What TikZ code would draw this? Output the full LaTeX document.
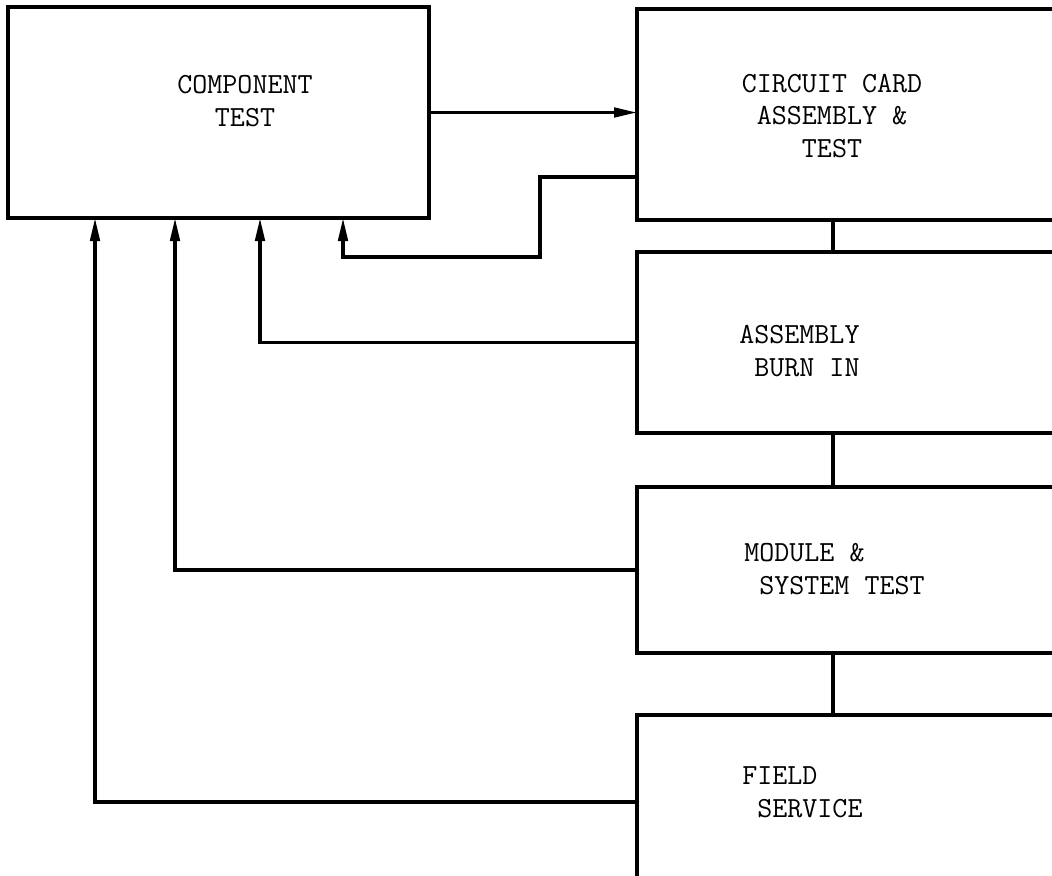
\documentclass[tikz,border=0pt]{standalone}
\usepackage{fontspec}
\usepackage{tikz}
\usetikzlibrary{arrows.meta, positioning}

\begin{document}
\begin{tikzpicture}[
    node distance=0.64cm,
    every node/.style={font=\ttfamily\fontsize{16.6}{18.6}\selectfont},
    block/.style={rectangle, draw, line width=1.9pt, outer sep=0pt, inner sep=0pt},
    stage/.style={block, minimum width=8.7cm},
    caption/.style={inner sep=0pt, align=center},
    arrow/.style={-{Triangle[length=0.46cm, width=0.19cm]}, line width=1.9pt},
    link/.style={line width=1.9pt},
]
\useasboundingbox (0,0) rectangle (21.04,-17.52);
\clip (0,0) rectangle (21.04,-17.52);

\node[block, minimum width=8.42cm, minimum height=4.22cm] (comp) at (4.37,-2.25) {};
\node[stage, minimum height=4.22cm, anchor=north west] (card) at (12.74,-0.18) {};
\node[stage, minimum height=3.62cm, below=0.64cm of card] (burn) {};
\node[stage, minimum height=3.32cm, below=1.08cm of burn] (module) {};
\node[stage, minimum height=3.48cm, below=1.24cm of module] (field) {};

\node[caption] (comp-t) at ([shift={(4.74,-1.88)}]comp.north west) {COMPONENT\\TEST};
\node[caption] (card-t) at ([shift={(3.9,-2.14)}]card.north west) {CIRCUIT CARD\\ASSEMBLY \&\\TEST};
\node[caption, align=left, anchor=west] (burn-t) at ([shift={(2.04,-1.98)}]burn.north west) {ASSEMBLY\\~BURN IN};
\node[caption, align=left, anchor=west] (module-t) at ([shift={(2.14,-1.64)}]module.north west) {MODULE \&\\~SYSTEM TEST};
\node[caption, align=left, anchor=west] (field-t) at ([shift={(2.1,-1.54)}]field.north west) {FIELD\\~SERVICE};

% flow down the line
\coordinate (spine) at (16.66,0);
\draw[link] (card.south -| spine) -- (burn.north -| spine);
\draw[link] (burn.south -| spine) -- (module.north -| spine);
\draw[link] (module.south -| spine) -- (field.north -| spine);
\draw[arrow] (comp.east) -- (comp.east -| card.west);

% rejects back to component test
\draw[arrow] ([yshift=-1.25cm]card.west) -- ++(-1.94,0) -- ++(0,-1.6) -| ([xshift=6.7cm]comp.south west);
\draw[arrow] (burn.west) -| ([xshift=5.04cm]comp.south west);
\draw[arrow] (module.west) -| ([xshift=3.34cm]comp.south west);
\draw[arrow] (field.west) -| ([xshift=1.74cm]comp.south west);

\end{tikzpicture}
\end{document}
